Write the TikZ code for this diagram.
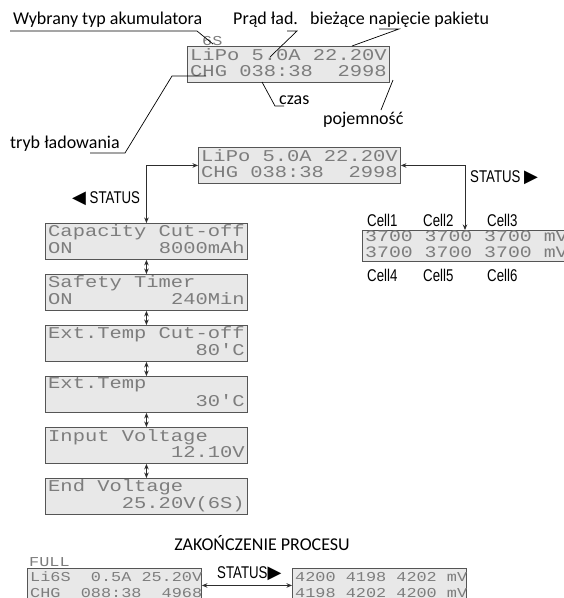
\documentclass[tikz,border=0pt]{standalone}
\usepackage{fontspec}
\setmainfont{Carlito}
\newfontfamily\lcdf[FakeStretch=1.24]{Liberation Mono}
\newfontfamily\condf[FakeStretch=0.78]{Liberation Sans}
\newfontfamily\symf{DejaVu Sans}
\usetikzlibrary{arrows.meta}
\definecolor{lcdfill}{RGB}{232,232,232}
\definecolor{lcdline}{RGB}{85,85,85}
\definecolor{lcdtext}{RGB}{125,125,125}
\definecolor{conn}{RGB}{45,45,45}
\newcommand\ls{\hphantom{0}}
\newcommand\lcdrows[3]{\parbox{#1}{\strut#2\\\strut#3}}
\newcommand\rtri{{\symf\fontsize{18}{18}\selectfont ▶}}
\newcommand\ltri{{\symf\fontsize{18}{18}\selectfont ◀}}
\begin{document}
\begin{tikzpicture}[x=1pt,y=-1pt,
  lcd/.style={draw=lcdline, line width=0.9pt, fill=lcdfill, text=lcdtext,
    anchor=north west, inner xsep=2.75pt, inner ysep=0pt, minimum height=36pt,
    font=\lcdf\fontsize{16.5}{16}\selectfont},
  lcdcells/.style={lcd, minimum height=31pt, font=\lcdf\fontsize{16}{13.5}\selectfont},
  lcdbot/.style={lcd, font=\lcdf\fontsize{13.6}{16}\selectfont},
  lcdsm/.style={text=lcdtext, inner sep=0pt, font=\lcdf\fontsize{13.6}{14}\selectfont},
  lbl/.style={font=\fontsize{18}{20}\selectfont, inner sep=0pt, text=black},
  cnd/.style={font=\condf\fontsize{17}{18}\selectfont, inner sep=0pt, text=black},
  lead/.style={draw=black, line width=0.7pt},
  link/.style={draw=conn, line width=0.9pt,
    {Stealth[length=5.5pt,width=4.5pt]}-{Stealth[length=5.5pt,width=4.5pt]}},
]
\useasboundingbox (0,0) rectangle (564,598);
\clip (0,0) rectangle (564,598);
\fill[white] (0,0) rectangle (564,598);

% ---------- top annotated display ----------
\node[lcd] (top) at (187,46) {\lcdrows{196.5pt}{LiPo\ls5.0A\ls22.20V}{CHG\ls038:38\ls\ls2998}};
\node[lcdsm, anchor=base west] (six) at (202,45) {6S};

\node[lbl, anchor=base west] (wyb) at (13,24) {Wybrany typ akumulatora};
\node[lbl, anchor=base west] (prad) at (233,24) {Prąd ład.};
\node[lbl, anchor=base west] (biez) at (310,24) {bieżące napięcie pakietu};
\node[lbl, anchor=base west] (czas) at (279,104) {czas};
\node[lbl, anchor=base west] (poj) at (323,124) {pojemność};
\node[lbl, anchor=base west] (tryb) at (10,148) {tryb ładowania};

\coordinate (w1) at (10,31);   \coordinate (w2) at (197,31);  \coordinate (w3) at (213,44);
\coordinate (p1) at (287,31);  \coordinate (p2) at (297,31);  \coordinate (p3) at (270,57);
\coordinate (b1) at (379,29);  \coordinate (b2) at (399,29);  \coordinate (b3) at (352,46);
\coordinate (c1) at (262,82);  \coordinate (c2) at (275,106); \coordinate (c3) at (284,106);
\coordinate (j1) at (393,80);  \coordinate (j2) at (381,110);
\coordinate (t1) at (90,153);  \coordinate (t2) at (125,153); \coordinate (t3) at (172,76); \coordinate (t4) at (206,76);
\draw[lead] (w1) -- (w2) -- (w3);
\draw[lead] (p1) -- (p2) -- (p3);
\draw[lead] (b1) -- (b2) -- (b3);
\draw[lead] (c1) -- (c2) -- (c3);
\draw[lead] (j1) -- (j2);
\draw[lead] (t1) -- (t2) -- (t3) -- (t4);

% ---------- main display and status menus ----------
\node[lcd] (main) at (198,147) {\lcdrows{196.5pt}{LiPo\ls5.0A\ls22.20V}{CHG\ls038:38\ls\ls2998}};

\node[cnd, anchor=west] (sl) at (72,199) {\ltri\ STATUS};
\node[cnd, anchor=west] (sr) at (470,178) {STATUS \rtri};

\node[lcd] (cap)  at (45,223) {\lcdrows{196.5pt}{Capacity\ls Cut-off}{ON\hfill 8000mAh}};
\node[lcd] (saf)  at (45,274) {\lcdrows{196.5pt}{Safety\ls Timer}{ON\hfill 240Min}};
\node[lcd] (extc) at (45,325) {\lcdrows{196.5pt}{Ext.Temp\ls Cut-off}{\hfill 80'C}};
\node[lcd] (extt) at (45,376) {\lcdrows{196.5pt}{Ext.Temp}{\hfill 30'C}};
\node[lcd] (inv)  at (45,427) {\lcdrows{196.5pt}{Input\ls Voltage}{\hfill 12.10V}};
\node[lcd] (endv) at (45,478) {\lcdrows{196.5pt}{End\ls Voltage}{\hfill 25.20V(6S)}};

\node[lcdcells] (cells) at (362,230) {\lcdrows{210pt}{3700\ls3700\ls3700\ls mV}{3700\ls3700\ls3700\ls mV}};
\node[cnd, anchor=base west] (c1l) at (367,226) {Cell1};
\node[cnd, anchor=base west] (c2l) at (423,226) {Cell2};
\node[cnd, anchor=base west] (c3l) at (487,226) {Cell3};
\node[cnd, anchor=base west] (c4l) at (367,281) {Cell4};
\node[cnd, anchor=base west] (c5l) at (423,281) {Cell5};
\node[cnd, anchor=base west] (c6l) at (487,281) {Cell6};

\coordinate (cellin) at ([xshift=103pt]cells.north west);
\draw[link] (main.west) -| (cap.north);
\draw[link] (main.east) -| (cellin);
\draw[link] (cap.south) -- (saf.north);
\draw[link] (saf.south) -- (extc.north);
\draw[link] (extc.south) -- (extt.north);
\draw[link] (extt.south) -- (inv.north);
\draw[link] (inv.south) -- (endv.north);

% ---------- end of process ----------
\node[lbl, anchor=center] (zak) at (262,543) {ZAKOŃCZENIE PROCESU};
\node[lcdsm, anchor=base west] (full) at (29,566) {FULL};
\node[lcdbot] (fin) at (27,568) {\lcdrows{168.5pt}{Li6S\ls\ls0.5A\ls25.20V}{CHG\ls\ls088:38\ls\ls4968}};
\node[lcdbot] (fcell) at (292,568) {\lcdrows{168.5pt}{4200\ls4198\ls4202\ls mV}{4198\ls4202\ls4200\ls mV}};
\node[cnd, anchor=west] (sb) at (217,574) {STATUS\rtri};
\draw[link] ([yshift=1pt]fin.east) -- ([yshift=1pt]fcell.west);
\end{tikzpicture}
\end{document}
